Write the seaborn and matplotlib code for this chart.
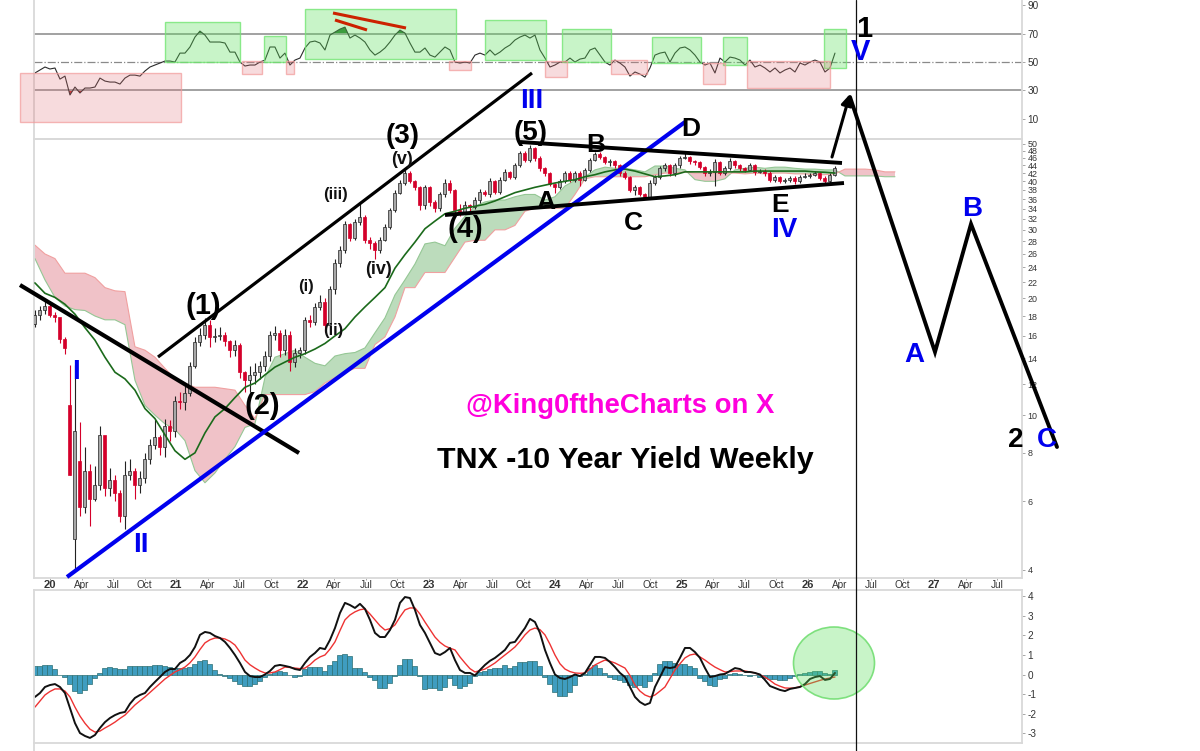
import numpy as np
import pandas as pd
import matplotlib
matplotlib.use("Agg")
import matplotlib.pyplot as plt
from matplotlib.patches import Ellipse, Rectangle
from matplotlib.ticker import FixedLocator, FixedFormatter, NullLocator
import seaborn as sns

# weekly candles sampled every second week, first one late 2019
first_open = 17.2
closes = [
    18.1, 18.6, 19.1, 18.1, 17.9, 15.7, 14.9, 7.0, 9.1, 5.8,
    7.2, 6.1, 6.6, 8.9, 6.5, 6.8, 6.3, 5.5, 7.0, 7.2,
    6.6, 6.9, 7.7, 8.4, 8.8, 8.3, 9.4, 9.1, 10.9, 10.8,
    11.4, 13.4, 15.4, 16.1, 17.1, 15.9, 16.0, 16.1, 15.5, 14.7,
    15.2, 12.9, 12.3, 12.7, 12.9, 13.4, 14.2, 16.1, 16.3, 14.7,
    16.1, 13.7, 14.5, 14.7, 17.6, 17.4, 19.0, 19.6, 17.1, 21.1,
    24.7, 26.6, 31.0, 28.6, 31.4, 32.3, 28.2, 27.7, 26.6, 28.2,
    30.5, 33.7, 37.4, 39.7, 42.0, 40.0, 38.6, 34.7, 38.6, 35.4,
    34.1, 37.0, 39.7, 38.0, 33.7, 33.2, 34.7, 34.3, 35.8, 37.6,
    37.0, 40.0, 37.6, 40.4, 42.3, 41.1, 44.0, 47.4, 45.5, 48.7,
    46.0, 43.2, 42.0, 39.3, 38.6, 40.0, 42.0, 40.4, 42.0, 40.4,
    42.8, 45.5, 47.0, 46.3, 44.8, 45.0, 44.0, 42.0, 41.1, 38.0,
    38.6, 37.0, 36.5, 39.7, 41.1, 43.2, 44.0, 42.0, 44.0, 46.0,
    46.3, 45.0, 44.8, 43.5, 42.0, 42.3, 44.8, 42.0, 43.2, 45.0,
    44.0, 43.2, 42.8, 44.0, 42.3, 42.5, 42.0, 40.4, 41.1, 40.0,
    40.2, 40.9, 40.0, 41.1, 41.4, 41.6, 42.0, 40.9, 40.0, 41.6,
    43.2,
]
# opens that gapped away from the previous close in the March 2020 crash
gap_opens = {7: 10.6, 8: 4.8, 9: 7.6}
highs = [
    18.6, 19.1, 19.8, 19.3, 18.4, 17.2, 15.9, 13.5, 13.5, 9.6,
    8.3, 7.5, 7.4, 9.4, 8.7, 7.3, 7.0, 6.4, 7.6, 7.7,
    7.3, 7.2, 8.0, 8.7, 9.8, 8.9, 9.8, 9.7, 11.2, 11.5,
    11.9, 13.7, 15.9, 16.8, 17.8, 17.6, 16.8, 16.9, 16.4, 15.6,
    15.6, 15.3, 13.0, 13.4, 13.6, 13.8, 14.6, 16.5, 17.0, 16.6,
    16.7, 16.5, 14.9, 15.0, 17.9, 18.1, 19.4, 20.4, 20.0, 21.5,
    25.2, 27.2, 31.6, 31.2, 32.0, 35.4, 32.8, 28.8, 28.0, 28.8,
    31.0, 34.2, 38.0, 40.2, 42.8, 42.5, 40.4, 38.8, 39.2, 38.8,
    35.8, 37.6, 40.6, 40.2, 38.2, 35.0, 35.5, 35.0, 36.4, 38.2,
    38.0, 40.8, 40.4, 41.0, 43.0, 42.6, 44.6, 48.0, 47.8, 49.6,
    49.0, 46.6, 43.6, 42.2, 39.6, 40.6, 42.6, 42.4, 42.6, 42.4,
    43.4, 46.0, 47.6, 47.6, 46.6, 45.6, 45.4, 44.4, 42.4, 41.4,
    39.2, 38.8, 37.4, 40.2, 41.6, 43.8, 44.6, 44.4, 44.6, 46.6,
    47.4, 46.6, 45.4, 45.2, 43.9, 42.9, 45.6, 45.2, 43.8, 45.8,
    45.4, 44.4, 43.6, 44.6, 44.4, 42.9, 42.9, 42.4, 41.6, 41.4,
    40.7, 41.3, 41.2, 41.5, 41.9, 42.0, 42.4, 42.3, 41.2, 42.0,
    43.9,
]
lows = [
    16.9, 17.6, 18.2, 17.9, 17.4, 15.3, 14.4, 7.0, 4.0, 5.5,
    5.6, 5.2, 6.0, 6.4, 6.2, 6.2, 6.0, 5.3, 5.1, 6.8,
    6.1, 6.3, 6.7, 7.5, 8.2, 7.9, 7.8, 8.6, 8.8, 10.4,
    10.3, 11.2, 13.2, 15.1, 15.7, 15.0, 15.4, 15.6, 15.1, 14.1,
    14.2, 12.5, 11.5, 11.5, 12.0, 12.4, 13.0, 13.8, 15.6, 14.1,
    14.3, 13.0, 13.3, 14.0, 14.4, 16.9, 17.1, 18.6, 16.4, 17.1,
    20.5, 24.1, 26.2, 28.0, 28.2, 30.8, 27.8, 26.8, 25.2, 26.2,
    28.0, 30.1, 33.3, 37.0, 39.2, 39.5, 38.0, 33.8, 33.9, 34.6,
    33.4, 33.6, 36.4, 37.4, 32.8, 32.6, 33.0, 33.6, 33.9, 35.2,
    36.6, 36.4, 37.0, 37.2, 40.0, 40.6, 40.6, 43.6, 44.8, 44.8,
    45.2, 42.6, 41.4, 38.8, 37.4, 38.2, 39.6, 39.9, 39.8, 39.0,
    40.0, 42.2, 45.0, 45.6, 44.2, 43.8, 43.4, 41.4, 40.6, 37.6,
    36.8, 36.6, 36.0, 36.3, 39.2, 40.6, 42.6, 41.4, 41.4, 43.4,
    45.6, 44.4, 44.0, 43.0, 41.2, 41.4, 38.8, 41.5, 41.5, 42.8,
    43.4, 42.6, 42.2, 42.4, 41.6, 42.0, 41.2, 39.8, 39.8, 39.6,
    39.6, 39.8, 39.4, 39.5, 40.7, 40.9, 41.3, 40.4, 39.4, 39.4,
    41.2,
]

# ichimoku spans and the moving average, coarser sampling
span_a = [
    25.3, 22.3, 20.1, 19.1, 18.7, 18.6, 18.0, 17.6, 17.6, 17.1,
    12.3, 10.6, 10.0, 9.5, 9.2, 8.6, 7.2, 6.7, 7.1, 7.7,
    8.3, 9.3, 9.5, 12.5, 14.1, 14.4, 14.7, 14.1, 13.6, 13.4,
    14.2, 14.4, 14.5, 14.9, 16.3, 17.8, 20.4, 22.3, 24.5, 27.6,
    27.9, 27.3, 30.3, 32.5, 34.5, 35.4, 35.8, 35.8, 36.5, 37.0,
    37.0, 35.8, 36.5, 38.9, 40.2, 41.1, 42.8, 43.5, 43.2, 43.2,
    42.8, 42.3, 43.8, 43.8, 43.2, 42.8, 40.4, 40.0, 40.0, 40.6,
    42.8, 43.2, 43.5, 43.2, 43.5, 43.5, 43.2, 43.0, 43.0, 42.8,
    42.8, 41.3, 41.3, 41.3, 41.3, 41.1, 41.1,
]
span_b = [
    27.4, 26.0, 25.3, 23.2, 23.2, 23.2, 22.6, 21.3, 20.9, 20.8,
    15.0, 14.7, 14.1, 13.2, 12.4, 12.1, 11.8, 11.8, 11.8, 11.7,
    11.6, 10.6, 9.8, 11.3, 11.3, 11.3, 11.3, 11.3, 11.5, 12.1,
    12.5, 12.9, 13.2, 13.2, 15.2, 15.9, 17.9, 21.3, 21.3, 23.3,
    23.3, 23.3, 25.5, 27.9, 28.2, 28.2, 30.0, 30.0, 30.8, 33.5,
    34.1, 34.1, 34.1, 34.1, 37.0, 40.6, 41.1, 41.1, 41.1, 41.1,
    41.1, 41.1, 41.6, 42.0, 42.0, 42.3, 42.0, 42.0, 42.0, 42.0,
    42.0, 41.8, 42.0, 41.8, 42.0, 42.0, 41.8, 41.8, 41.6, 41.6,
    41.8, 43.0, 43.0, 43.0, 42.8, 42.3, 42.3,
]
moving_avg = [
    21.9, 20.6, 20.1, 19.3, 18.2, 16.8, 15.6, 14.1, 12.9, 12.4,
    11.6, 10.4, 9.8, 8.9, 8.1, 7.7, 8.0, 9.0, 9.9, 10.4,
    11.1, 11.8, 12.1, 12.7, 13.3, 13.7, 14.1, 14.4, 14.8, 15.3,
    16.0, 16.7, 17.9, 19.0, 20.1, 21.3, 23.9, 25.9, 27.9, 30.2,
    31.6, 33.0, 33.5, 34.1, 34.5, 34.9, 35.6, 36.5, 37.4, 38.0,
    38.6, 39.1, 39.6, 40.0, 40.4, 41.1, 41.6, 42.3, 42.8, 43.0,
    42.5, 41.8, 41.1, 41.3, 41.6, 42.3, 42.3, 42.3, 42.3, 42.3,
    42.3, 42.3, 42.5, 42.5, 42.5, 42.5, 42.5, 42.5, 42.3, 42.2,
    42.0,
]

rsi = [
    42.3, 44.4, 46.5, 45.1, 45.8, 38.0, 40.1, 26.8, 32.4, 28.2,
    31.7, 31.7, 32.4, 38.7, 36.6, 35.9, 35.9, 34.5, 38.7, 40.8,
    40.8, 40.1, 43.7, 46.5, 47.9, 49.3, 50.7, 50.7, 50.0, 56.3,
    56.3, 60.6, 67.6, 71.8, 69.0, 64.1, 64.1, 64.1, 63.4, 57.0,
    57.0, 50.0, 47.2, 47.9, 47.9, 50.0, 51.4, 60.6, 60.6, 52.8,
    56.3, 47.9, 51.4, 52.8, 59.9, 64.1, 64.8, 63.4, 58.5, 69.0,
    71.1, 73.2, 74.6, 66.9, 69.0, 66.9, 64.1, 58.5, 54.9, 57.0,
    59.9, 64.1, 69.0, 72.5, 70.4, 63.4, 57.0, 57.0, 59.9, 54.9,
    53.5, 57.0, 60.6, 58.5, 50.0, 49.3, 50.0, 49.3, 54.9, 56.3,
    54.9, 58.5, 54.9, 57.0, 59.9, 62.0, 65.5, 67.6, 69.0, 66.9,
    69.0, 58.5, 52.8, 46.5, 47.9, 50.0, 50.0, 52.8, 50.0, 52.1,
    52.8, 58.5, 59.9, 54.9, 50.0, 47.9, 51.4, 49.3, 46.5, 40.1,
    43.0, 41.5, 39.4, 45.8, 54.9, 56.3, 57.0, 50.0, 56.3, 59.9,
    60.6, 58.5, 54.9, 50.0, 47.9, 49.3, 42.3, 52.8, 50.0, 53.5,
    52.8, 51.4, 47.9, 51.4, 46.5, 47.9, 45.8, 43.0, 45.8, 42.3,
    44.4, 45.8, 43.0, 49.3, 47.9, 50.0, 51.4, 50.0, 43.0, 45.8,
    56.3,
]

macd_line = [
    -1.15, -0.95, -0.64, -0.54, -0.49, -0.64, -0.95, -1.72, -2.49, -3.00,
    -3.15, -3.25, -3.10, -2.74, -2.44, -2.23, -2.08, -1.97, -1.92, -1.50,
    -1.20, -1.05, -0.95, -0.64, -0.38, -0.13, 0.13, 0.28, 0.28, 0.59,
    0.74, 1.00, 1.41, 2.03, 2.18, 2.13, 1.97, 1.87, 1.67, 1.36,
    1.00, 0.59, 0.13, -0.08, -0.13, -0.13, 0.00, 0.18, 0.44, 0.49,
    0.44, 0.38, 0.28, 0.23, 0.59, 0.90, 1.10, 1.36, 1.30, 1.77,
    2.38, 3.15, 3.67, 3.56, 3.41, 3.62, 3.36, 2.80, 2.13, 1.92,
    1.92, 2.28, 2.80, 3.67, 3.97, 3.92, 3.31, 2.54, 2.13, 1.62,
    1.10, 1.00, 1.15, 1.36, 0.74, 0.23, 0.08, 0.08, -0.05, 0.23,
    0.49, 0.70, 0.85, 1.05, 1.26, 1.62, 1.67, 2.03, 2.38, 2.85,
    2.69, 2.13, 1.26, 0.59, 0.00, -0.18, -0.23, -0.13, 0.00, -0.08,
    0.08, 0.49, 0.90, 0.90, 0.85, 0.64, 0.38, 0.08, -0.13, -0.64,
    -1.15, -1.41, -1.56, -1.46, -0.64, -0.13, 0.38, 0.33, 0.38, 0.85,
    1.36, 1.36, 1.15, 0.85, 0.33, -0.13, -0.08, 0.00, 0.03, 0.18,
    0.33, 0.28, 0.13, 0.13, 0.08, 0.00, -0.28, -0.59, -0.69, -0.79,
    -0.85, -0.74, -0.69, -0.64, -0.49, -0.23, -0.13, -0.08, -0.28, -0.23,
    0.08,
]
macd_signal = [
    -1.67, -1.36, -1.05, -0.87, -0.74, -0.74, -0.85, -1.15, -1.67, -2.13,
    -2.50, -2.80, -2.95, -2.90, -2.74, -2.60, -2.44, -2.25, -2.08, -1.82,
    -1.56, -1.35, -1.15, -0.92, -0.69, -0.46, -0.23, -0.05, 0.13, 0.25,
    0.38, 0.60, 0.90, 1.28, 1.62, 1.78, 1.87, 1.87, 1.82, 1.70,
    1.51, 1.15, 0.74, 0.50, 0.33, 0.18, 0.08, 0.08, 0.13, 0.25,
    0.38, 0.36, 0.33, 0.30, 0.33, 0.50, 0.74, 0.90, 1.00, 1.30,
    1.67, 2.25, 2.80, 3.05, 3.21, 3.32, 3.36, 3.10, 2.80, 2.50,
    2.28, 2.35, 2.54, 2.95, 3.31, 3.41, 3.41, 3.10, 2.69, 2.30,
    1.92, 1.65, 1.46, 1.35, 1.26, 0.90, 0.59, 0.30, 0.13, 0.20,
    0.28, 0.43, 0.59, 0.80, 1.00, 1.20, 1.41, 1.70, 2.03, 2.28,
    2.38, 2.30, 2.03, 1.55, 1.00, 0.55, 0.28, 0.15, 0.08, 0.06,
    0.08, 0.28, 0.49, 0.62, 0.74, 0.68, 0.59, 0.46, 0.33, -0.05,
    -0.54, -0.85, -1.05, -1.15, -1.05, -0.85, -0.64, -0.20, 0.23, 0.55,
    0.85, 1.00, 1.05, 0.90, 0.74, 0.55, 0.38, 0.25, 0.13, 0.15,
    0.18, 0.18, 0.18, 0.13, 0.08, -0.02, -0.13, -0.30, -0.49, -0.60,
    -0.69, -0.70, -0.69, -0.62, -0.54, -0.46, -0.38, -0.30, -0.23, -0.18,
    -0.13,
]
macd_hist = [
    0.46, 0.46, 0.47, 0.47, 0.26, -0.05, -0.12, -0.51, -0.85, -0.94,
    -0.77, -0.51, -0.17, 0.10, 0.34, 0.36, 0.34, 0.30, 0.30, 0.45,
    0.45, 0.42, 0.42, 0.45, 0.50, 0.47, 0.43, 0.38, 0.35, 0.33,
    0.32, 0.40, 0.55, 0.68, 0.72, 0.55, 0.25, 0.05, -0.08, -0.20,
    -0.35, -0.50, -0.60, -0.60, -0.50, -0.35, -0.15, 0.05, 0.15, 0.20,
    0.15, -0.05, -0.12, -0.10, 0.30, 0.37, 0.40, 0.40, 0.20, 0.50,
    0.70, 1.00, 1.03, 0.95, 0.35, 0.35, 0.15, -0.15, -0.30, -0.70,
    -0.70, -0.45, -0.10, 0.50, 0.80, 0.80, 0.45, -0.10, -0.75, -0.70,
    -0.70, -0.80, -0.65, -0.20, -0.55, -0.70, -0.60, -0.45, -0.10, 0.15,
    0.20, 0.27, 0.34, 0.35, 0.50, 0.35, 0.45, 0.65, 0.65, 0.68,
    0.68, 0.45, -0.15, -0.50, -0.90, -1.10, -1.10, -0.90, -0.55, -0.10,
    0.02, 0.35, 0.50, 0.35, 0.10, -0.15, -0.25, -0.30, -0.40, -0.55,
    -0.65, -0.55, -0.65, -0.35, 0.10, 0.55, 0.70, 0.68, 0.60, 0.55,
    0.55, 0.45, 0.35, -0.20, -0.35, -0.55, -0.60, -0.25, -0.20, 0.02,
    0.08, 0.05, -0.05, -0.10, -0.05, -0.15, -0.20, -0.25, -0.25, -0.28,
    -0.28, -0.20, -0.10, 0.02, 0.08, 0.13, 0.18, 0.20, 0.10, 0.05,
    0.22,
]

price_ticks = [4, 6, 8, 10, 12, 14, 16, 18, 20, 22, 24, 26, 28, 30, 32, 34, 36, 38, 40, 42, 44, 46, 48, 50]
rsi_ticks = [90, 70, 50, 30, 10]
macd_ticks = [4, 3, 2, 1, 0, -1, -2, -3]
x_labels = ["20", "Apr", "Jul", "Oct", "21", "Apr", "Jul", "Oct", "22", "Apr", "Jul", "Oct",
            "23", "Apr", "Jul", "Oct", "24", "Apr", "Jul", "Oct", "25", "Apr", "Jul", "Oct",
            "26", "Apr", "Jul", "Oct", "27", "Apr", "Jul"]

PX_PER_YEAR = 126.3
START = 2019.881
W, H = 1200, 751
LEFT, RIGHT = 33.7, 1022

fine_x = START + np.arange(len(closes)) * 5 / PX_PER_YEAR
coarse_x = START + np.arange(len(span_a)) * 10 / PX_PER_YEAR
ma_x = coarse_x[:len(moving_avg)]
tick_x = [2020 + i * 0.25 for i in range(len(x_labels))]

candles = pd.DataFrame({"x": fine_x, "close": closes, "high": highs, "low": lows})
candles["open"] = candles["close"].shift(1).fillna(first_open)
for i, value in gap_opens.items():
    candles.loc[i, "open"] = value
candles["up"] = candles["close"] >= candles["open"]

sns.set_theme(style="white")
plt.rcParams["font.family"] = ["Liberation Sans", "DejaVu Sans"]

fig = plt.figure(figsize=(W / 100, H / 100), dpi=100)


def panel(top, bottom):
    return fig.add_axes([LEFT / W, 1 - bottom / H, (RIGHT - LEFT) / W, (bottom - top) / H])


ax_rsi = panel(0, 139)
ax_price = panel(139, 578)
ax_macd = panel(590, 743)

# rsi panel
ax_rsi.axhline(70, color="#9a9a9a", lw=1.3)
ax_rsi.axhline(30, color="#9a9a9a", lw=1.3)
ax_rsi.axhline(50, color="#8a8a8a", lw=0.9, ls="-.")
sns.lineplot(x=fine_x, y=rsi, ax=ax_rsi, color="#2b2b2b", linewidth=0.8, estimator=None)
rsi_arr = np.array(rsi)
ax_rsi.fill_between(fine_x, rsi_arr, 70, where=rsi_arr > 70, interpolate=True, color="#2e7d32", lw=0)
ax_rsi.fill_between(fine_x, rsi_arr, 30, where=rsi_arr < 30, interpolate=True, color="#d62728", lw=0)
ax_rsi.set_ylim(-4.2, 93.7)

# price panel: cloud, then candles, then the average
ax_price.set_yscale("log")
a, b = np.array(span_a), np.array(span_b)
ax_price.fill_between(coarse_x, a, b, where=a >= b, interpolate=True, color="#bcdcbc", lw=0, zorder=1)
ax_price.fill_between(coarse_x, a, b, where=a < b, interpolate=True, color="#f0c2c8", lw=0, zorder=1)
sns.lineplot(x=coarse_x, y=span_a, ax=ax_price, color="#95c795", linewidth=0.8, estimator=None, zorder=2)
sns.lineplot(x=coarse_x, y=span_b, ax=ax_price, color="#f0a0a0", linewidth=0.8, estimator=None, zorder=2)

for up, group in candles.groupby("up"):
    edge = "#222222" if up else "#d4002a"
    ax_price.vlines(group["x"], group["low"], group["high"], color=edge, lw=0.8, zorder=3)
    ax_price.bar(group["x"], (group["close"] - group["open"]).abs(),
                 bottom=group[["open", "close"]].min(axis=1), width=0.024,
                 facecolor="#a8a8a8" if up else "#d4002a", edgecolor=edge, lw=0.5, zorder=4)

sns.lineplot(x=ma_x, y=moving_avg, ax=ax_price, color="#1b6a1b", linewidth=1.2, estimator=None, zorder=5)
ax_price.set_ylim(3.81, 51.4)
ax_price.yaxis.set_major_locator(FixedLocator(price_ticks))
ax_price.yaxis.set_major_formatter(FixedFormatter([str(t) for t in price_ticks]))
ax_price.yaxis.set_minor_locator(NullLocator())

# macd panel
sns.barplot(x=fine_x, y=macd_hist, ax=ax_macd, native_scale=True, color="#3f9dc0", saturation=1,
            width=1, edgecolor="#2c6f73", linewidth=0.5, errorbar=None)
sns.lineplot(x=fine_x, y=macd_signal, ax=ax_macd, color="#ee3333", linewidth=1.0, estimator=None)
sns.lineplot(x=fine_x, y=macd_line, ax=ax_macd, color="#111111", linewidth=1.4, estimator=None)
ax_macd.set_ylim(-3.51, 4.33)

for ax, ticks, size in ((ax_rsi, rsi_ticks, 7.2), (ax_price, price_ticks, 6.4), (ax_macd, macd_ticks, 7.2)):
    ax.set_xlim(2019.871, 2027.696)
    ax.set_yticks(ticks)
    ax.set_yticklabels([str(t) for t in ticks])
    ax.yaxis.tick_right()
    ax.tick_params(axis="y", which="major", right=True, length=2, width=0.6, color="#999999",
                   labelsize=size, labelcolor="#333333", pad=2)
    ax.set_xlabel("")
    ax.set_ylabel("")
    ax.set_xticks([])
    ax.patch.set_alpha(0)
    for s in ax.spines.values():
        s.set_color("#d9d9d9")
        s.set_linewidth(1.3)
ax_price.yaxis.set_minor_locator(NullLocator())
ax_rsi.spines["top"].set_visible(False)

ax_price.set_xticks(tick_x)
ax_price.set_xticklabels(x_labels)
ax_price.tick_params(axis="x", bottom=True, length=1.5, width=0.6, color="#999999",
                     labelsize=7.2, labelcolor="#333333", pad=0)
for lab in ax_price.get_xticklabels():
    if lab.get_text().isdigit():
        lab.set_fontweight("bold")
        lab.set_fontsize(8)

# hand drawn markup sits on top, in picture pixels
over = fig.add_axes([0, 0, 1, 1], zorder=10)
over.set_xlim(0, W)
over.set_ylim(H, 0)
over.axis("off")

green_boxes = [(165, 22, 240, 62), (264, 36, 286, 62), (305, 9, 456, 59), (485, 20, 546, 60),
               (562, 29, 611, 62), (652, 37, 701, 63), (723, 37, 747, 65), (824, 29, 846, 68)]
pink_boxes = [(20, 73, 181, 122), (242, 61, 262, 74), (286, 61, 294, 74), (449, 61, 471, 70),
              (545, 61, 567, 77), (611, 60, 647, 74), (703, 63, 725, 84), (747, 61, 830, 88)]
for x0, y0, x1, y1 in green_boxes:
    over.add_patch(Rectangle((x0, y0), x1 - x0, y1 - y0, facecolor=(0.35, 0.88, 0.35, 0.33),
                             edgecolor=(0.45, 0.9, 0.45, 0.8), lw=1))
for x0, y0, x1, y1 in pink_boxes:
    over.add_patch(Rectangle((x0, y0), x1 - x0, y1 - y0, facecolor=(0.88, 0.45, 0.47, 0.25),
                             edgecolor=(0.95, 0.6, 0.6, 0.7), lw=1))
over.add_patch(Ellipse((834, 663), 81, 72, facecolor=(0.35, 0.88, 0.35, 0.33),
                       edgecolor=(0.45, 0.87, 0.45, 0.9), lw=1.2))

over.plot([LEFT, LEFT], [743, H], color="#d9d9d9", lw=1.3)
over.plot([856, 856], [0, H], color="#111111", lw=0.9)
over.plot([20, 299], [285, 453], color="black", lw=3, solid_capstyle="butt")
over.plot([158, 532], [357, 73], color="black", lw=2.3, solid_capstyle="butt")
over.plot([67, 685], [577, 122], color="#0000ee", lw=3, solid_capstyle="butt")
over.plot([520, 842], [142, 163], color="black", lw=2.8, solid_capstyle="butt")
over.plot([445, 844], [215, 183], color="black", lw=2.8, solid_capstyle="butt")
over.plot([333, 406], [13, 28], color="#cc2200", lw=2.2, solid_capstyle="butt")
over.plot([335, 367], [20, 30], color="#cc2200", lw=2.2, solid_capstyle="butt")
over.plot([850, 935, 971, 1057], [97, 352, 224, 447], color="black", lw=2.8, solid_joinstyle="miter")
over.annotate("", xy=(850, 94), xytext=(832, 157),
              arrowprops=dict(arrowstyle="-|>", color="black", lw=2.2, mutation_scale=16,
                              shrinkA=0, shrinkB=0))

labels = [
    ("1", 864, 27, 21, "black"), ("V", 860, 50, 21, "#0000ee"), ("III", 532, 99, 20, "#0000ee"),
    ("(3)", 403, 134, 20, "black"), ("(5)", 531, 131, 20, "black"), ("(1)", 203, 304, 21, "black"),
    ("(2)", 262, 404, 21, "black"), ("(4)", 465, 227, 21, "black"),
    ("(v)", 402, 157, 13, "#111111"), ("(iii)", 335, 193, 12, "#111111"), ("(i)", 306, 284, 12, "#111111"),
    ("(ii)", 333, 329, 12, "#111111"), ("(iv)", 379, 267, 13, "#111111"),
    ("A", 546, 200, 19, "black"), ("B", 596, 143, 19, "black"), ("C", 633, 221, 19, "black"),
    ("D", 691, 127, 19, "black"), ("E", 780, 203, 19, "black"), ("IV", 784, 228, 20, "#0000ee"),
    ("I", 76, 370, 20, "#0000ee"), ("II", 141, 543, 20, "#0000ee"),
    ("A", 914, 353, 20, "#0000ee"), ("B", 972, 207, 20, "#0000ee"), ("C", 1047, 438, 20, "#0000ee"),
    ("2", 1016, 438, 20, "black"),
]
for text, x, y, size, color in labels:
    over.text(x, y + 2, text, ha="center", va="center", fontsize=size, fontweight="bold", color=color)

over.text(620, 406, "@King0ftheCharts on X", ha="center", va="center", fontsize=19.8,
          fontweight="bold", color="#ff00dd")
over.text(625, 460, "TNX -10 Year Yield Weekly", ha="center", va="center", fontsize=21.9,
          fontweight="bold", color="black")

fig.savefig("out.png", dpi=100)
